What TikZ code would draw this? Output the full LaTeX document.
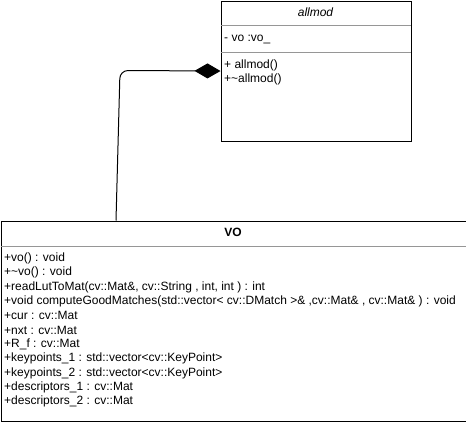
\documentclass[tikz,border=0pt]{standalone}
\usepackage{fontspec}
\setmainfont{Liberation Sans}
\usetikzlibrary{arrows.meta}
\definecolor{sepgray}{RGB}{150,150,150}
\begin{document}
\begin{tikzpicture}[x=1pt,y=-1pt,
  box/.style={draw=black, line width=1pt, anchor=north west, inner sep=0pt},
  txt/.style={anchor=west, inner sep=0pt, font=\fontsize{12}{14}\selectfont},
  sep/.style={draw=sepgray, line width=0.8pt}]
\useasboundingbox (0,0) rectangle (466,421);
\fill[white] (0,0) rectangle (466,421);
% allmod class
\node[box, minimum width=190pt, minimum height=140pt] (allmod) at (220.5,0.5) {};
\draw[sep] (220.5,25.5) -- (410.5,25.5);
\draw[sep] (220.5,52.5) -- (410.5,52.5);
\node[txt, anchor=center, font=\fontsize{12}{14}\selectfont\itshape] (allmodtitle) at (315.5,12.5) {allmod};
\node[txt] (allmodattr) at (224,39) {- vo :vo\_};
\node[txt] (allmodop1) at (224,65.5) {+ allmod()};
\node[txt] (allmodop2) at (224,79.5) {+\textasciitilde allmod()};
% VO class
\node[box, minimum width=465pt, minimum height=200pt] (vo) at (0.5,220.5) {};
\draw[sep] (0.5,246.5) -- (465.5,246.5);
\node[txt, anchor=center, font=\fontsize{12}{14}\selectfont\bfseries] (votitle) at (233,232.5) {VO};
\foreach \t [count=\i from 0] in {
  {+vo() : void},
  {+\textasciitilde vo() : void},
  {+readLutToMat(cv::Mat\&, cv::String , int, int ) : int},
  {+void computeGoodMatches(std::vector< cv::DMatch >\& ,cv::Mat\& , cv::Mat\& ) : void},
  {+cur : cv::Mat},
  {+nxt : cv::Mat},
  {+R\_f : cv::Mat},
  {+keypoints\_1 : std::vector<cv::KeyPoint>},
  {+keypoints\_2 : std::vector<cv::KeyPoint>},
  {+descriptors\_1 : cv::Mat},
  {+descriptors\_2 : cv::Mat}}
  \node[txt] (vol\i) at (4,258.5+14.3*\i) {\t};
% composition connector
\coordinate (bend) at (120,70.5);
\draw[line width=1pt, rounded corners=8pt, -{Diamond[length=26pt,width=15pt]}]
  ([xshift=115.5pt]vo.north west) -- (bend) -- (allmod.west);
\end{tikzpicture}
\end{document}
